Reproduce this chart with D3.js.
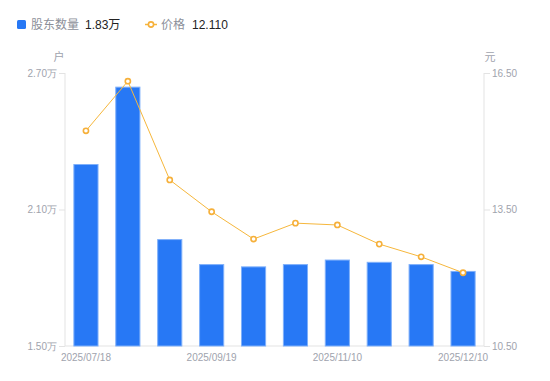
<!DOCTYPE html>
<html><head><meta charset="utf-8">
<script src="https://cdn.jsdelivr.net/npm/d3@7/dist/d3.min.js"></script>
<style>body{margin:0;background:#fff;font-family:"Noto Sans CJK SC","Liberation Sans",sans-serif;}</style>
</head><body><svg id="c" width="550" height="381"></svg>
<script>
const categories = ["2025/07/18","2025/08/08","2025/08/29","2025/09/19","2025/09/30","2025/10/20","2025/11/10","2025/11/20","2025/11/30","2025/12/10"];
const holders = [2.30, 2.64, 1.97, 1.86, 1.85, 1.86, 1.88, 1.87, 1.86, 1.83];
const prices = [15.23, 16.32, 14.15, 13.45, 12.85, 13.20, 13.16, 12.74, 12.46, 12.11];
const leftTicks = [1.5, 2.1, 2.7];
const rightTicks = [10.5, 13.5, 16.5];
const shownLabels = ["2025/07/18","2025/09/19","2025/11/10","2025/12/10"];

const svg = d3.select("#c");
const L = 65, R = 484, T = 73, B = 346;
const x = d3.scaleBand().domain(categories).range([L, R]).paddingInner(0.4).paddingOuter(0.2);
const yl = d3.scaleLinear().domain([1.5, 2.7]).range([B, T]);
const yr = d3.scaleLinear().domain([10.5, 16.5]).range([B, T]);
const grey = "#a0a3ad", axisC = "#e3e3e3";

// axes
const la = svg.append("g").attr("transform", `translate(${L},0)`)
  .call(d3.axisLeft(yl).tickValues(leftTicks).tickSize(6).tickPadding(2).tickFormat(d => d.toFixed(2) + "万"));
const ra = svg.append("g").attr("transform", `translate(${R},0)`)
  .call(d3.axisRight(yr).tickValues(rightTicks).tickSize(6).tickPadding(2).tickFormat(d => d.toFixed(2)));
const ba = svg.append("g").attr("transform", `translate(0,${B})`)
  .call(d3.axisBottom(x).tickValues(shownLabels).tickSize(0).tickPadding(8));
[la, ra, ba].forEach(g => {
  g.select(".domain").attr("stroke", axisC);
  g.selectAll(".tick line").attr("stroke", axisC);
  g.selectAll("text").attr("fill", grey).style("font-size", "10px").style("font-family", "'Liberation Sans',sans-serif");
});
ba.select(".domain").attr("d", `M${L},0H${R}`);
la.select(".domain").attr("d", `M0,${B}V${T}`);
ra.select(".domain").attr("d", `M0,${B}V${T}`);

// units
svg.append("text").attr("x", 59).attr("y", 61).attr("text-anchor", "middle").attr("fill", grey).style("font-size", "11px").text("户");
svg.append("text").attr("x", 490).attr("y", 61).attr("text-anchor", "middle").attr("fill", grey).style("font-size", "11px").text("元");

// bars
svg.append("g").selectAll("rect").data(holders).join("rect")
  .attr("x", (d, i) => x(categories[i]) + 0.5)
  .attr("width", x.bandwidth() - 1)
  .attr("y", d => yl(d) + 0.5)
  .attr("height", d => B - yl(d) - 0.5)
  .attr("fill", "#2778f5").attr("stroke", "#7fb0fa").attr("stroke-width", 1);

// line
const cx = (i) => x(categories[i]) + x.bandwidth() / 2;
svg.append("path").datum(prices)
  .attr("d", d3.line().x((d, i) => cx(i)).y(d => yr(d)))
  .attr("fill", "none").attr("stroke", "#f6b73c").attr("stroke-width", 1);
svg.append("g").selectAll("circle").data(prices).join("circle")
  .attr("cx", (d, i) => cx(i)).attr("cy", d => yr(d)).attr("r", 2.6)
  .attr("fill", "#fff").attr("stroke", "#f6b03a").attr("stroke-width", 1.6);

// legend
const lg = svg.append("g").style("font-size", "12px");
lg.append("rect").attr("x", 17).attr("y", 20).attr("width", 9).attr("height", 9).attr("rx", 1.5).attr("fill", "#2778f5");
lg.append("text").attr("x", 31).attr("y", 29).attr("fill", "#8c8f99").text("股东数量");
lg.append("text").attr("x", 85).attr("y", 29).attr("fill", "#222").style("font-family", "'Liberation Sans','Noto Sans CJK SC',sans-serif").text("1.83万");
lg.append("line").attr("x1", 145).attr("x2", 157).attr("y1", 24.5).attr("y2", 24.5).attr("stroke", "#f6b73c").attr("stroke-width", 1.5);
lg.append("circle").attr("cx", 151).attr("cy", 24.5).attr("r", 2.6).attr("fill", "#fff").attr("stroke", "#f6b03a").attr("stroke-width", 1.6);
lg.append("text").attr("x", 161).attr("y", 29).attr("fill", "#8c8f99").text("价格");
lg.append("text").attr("x", 192).attr("y", 29).attr("fill", "#222").style("font-family", "'Liberation Sans',sans-serif").text("12.110");
</script></body></html>
